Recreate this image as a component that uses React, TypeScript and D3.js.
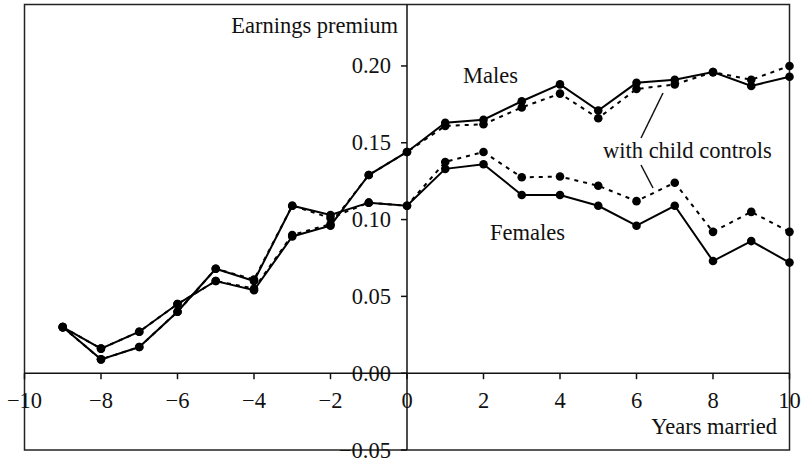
import React from "react";
import * as d3 from "d3";

const years = [-9, -8, -7, -6, -5, -4, -3, -2, -1, 0, 1, 2, 3, 4, 5, 6, 7, 8, 9, 10];
const malesPremium = [0.030, 0.016, 0.027, 0.045, 0.060, 0.054, 0.089, 0.096, 0.129, 0.144, 0.163, 0.165, 0.177, 0.188, 0.171, 0.189, 0.191, 0.196, 0.187, 0.193];
const malesWithChild = [0.030, 0.016, 0.027, 0.045, 0.060, 0.055, 0.090, 0.097, 0.129, 0.144, 0.161, 0.162, 0.173, 0.182, 0.166, 0.185, 0.188, 0.196, 0.191, 0.200];
const femalesPremium = [0.030, 0.009, 0.017, 0.040, 0.068, 0.060, 0.109, 0.103, 0.111, 0.109, 0.133, 0.136, 0.116, 0.116, 0.109, 0.096, 0.109, 0.073, 0.086, 0.072];
const femalesWithChild = [0.030, 0.009, 0.017, 0.040, 0.068, 0.061, 0.109, 0.101, 0.111, 0.109, 0.1375, 0.144, 0.1275, 0.128, 0.122, 0.112, 0.124, 0.092, 0.105, 0.092];
const xTicks = [-10, -8, -6, -4, -2, 0, 2, 4, 6, 8, 10];
const yTicks = [-0.05, 0, 0.05, 0.1, 0.15, 0.2];

const FS = 22.5;
const textStyle: React.CSSProperties = { fontFamily: "Liberation Serif", fontSize: FS };

export default function App() {
  const left = 24.5, right = 789.5, top = 4.5, bottom = 450;
  const x = d3.scaleLinear().domain([-10, 10]).range([left, right]);
  const y = d3.scaleLinear().domain([-0.05, 0.24]).range([bottom, top]);
  const line = d3
    .line<number>()
    .x((_, i) => x(years[i]))
    .y((d) => y(d));

  const fmtX = (v: number) => (v < 0 ? "\u2212" + Math.abs(v) : String(v));
  const fmtY = (v: number) => {
    const s = Math.abs(v).toFixed(2);
    return v < -1e-9 ? "\u2212" + s : s;
  };

  const series = [
    { data: malesWithChild, dashed: true },
    { data: femalesWithChild, dashed: true },
    { data: malesPremium, dashed: false },
    { data: femalesPremium, dashed: false },
  ];

  const x0 = x(0);
  const y0 = y(0);

  return (
    <svg width={802} height={463} style={{ display: "block", position: "absolute", left: 0, top: 0, background: "#fff", fontFamily: "Liberation Serif" }}>
      <rect x={left} y={top} width={right - left} height={bottom - top} fill="none" stroke="#222" strokeWidth={1.5} />
      <line x1={x0} x2={x0} y1={top} y2={bottom} stroke="#111" strokeWidth={1.5} />
      <line x1={left} x2={right} y1={y0} y2={y0} stroke="#111" strokeWidth={1.5} />
      {xTicks.map((t) => (
        <g key={"xt" + t}>
          <line x1={x(t)} x2={x(t)} y1={y0} y2={y0 + 6} stroke="#111" strokeWidth={1.5} />
          <text x={x(t)} y={408} textAnchor="middle" style={textStyle} fill="#111">
            {fmtX(t)}
          </text>
        </g>
      ))}
      {yTicks.map((t) => (
        <g key={"yt" + t}>
          <line x1={x0 - 6} x2={x0} y1={y(t)} y2={y(t)} stroke="#111" strokeWidth={1.5} />
          <text x={391} y={y(t) + 7.5} textAnchor="end" style={textStyle} fill="#111">
            {fmtY(t)}
          </text>
        </g>
      ))}
      {series.map((s, k) => (
        <g key={"s" + k}>
          <path
            d={line(s.data) || ""}
            fill="none"
            stroke="#000"
            strokeWidth={2}
            strokeDasharray={s.dashed ? "4,5" : undefined}
          />
          {s.data.map((v, i) => (
            <circle key={i} cx={x(years[i])} cy={y(v)} r={4.3} fill="#000" />
          ))}
        </g>
      ))}
      <text x={398} y={33} textAnchor="end" style={textStyle} fill="#111">Earnings premium</text>
      <text x={777} y={434} textAnchor="end" style={textStyle} fill="#111">Years married</text>
      <text x={463} y={83} style={textStyle} fill="#111">Males</text>
      <text x={490} y={240} style={textStyle} fill="#111">Females</text>
      <text x={603} y={158} style={textStyle} fill="#111">with child controls</text>
      <line x1={663} y1={93} x2={641} y2={138} stroke="#111" strokeWidth={1.5} />
      <line x1={641} y1={165} x2={653} y2={188} stroke="#111" strokeWidth={1.5} />
    </svg>
  );
}
